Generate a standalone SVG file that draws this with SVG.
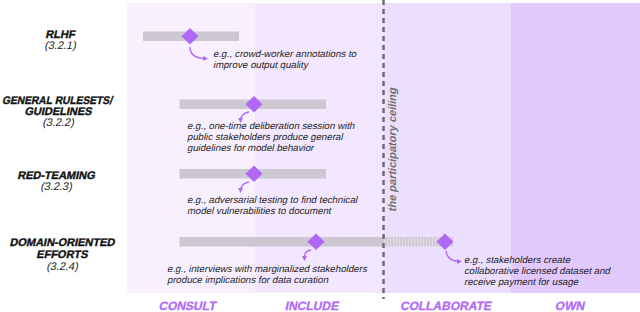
<svg xmlns="http://www.w3.org/2000/svg" width="640" height="312" viewBox="0 0 640 312">
<defs>
<style>
text{font-family:"Liberation Sans",Arial,sans-serif}
.lbl{font-weight:700;font-size:11px;fill:#111;stroke:#111;stroke-width:0.35;text-anchor:middle}
.sec{font-weight:400;font-size:11px;fill:#222;text-anchor:middle}
.ann{font-weight:400;font-size:9.7px;fill:#1e1e1e}
.axis{font-weight:700;font-size:12px;fill:#b26bf5;stroke:#b26bf5;stroke-width:0.3;text-anchor:middle}
.ceil{font-weight:700;font-size:11px;fill:#707070;text-anchor:middle}
.bar{fill:#cdc7d1}
.dia{fill:#b067f5}
.arr{fill:none;stroke:#b067f5;stroke-width:1.4;marker-end:url(#ah)}
</style>
<marker id="ah" viewBox="0 0 10 10" refX="6" refY="5" markerWidth="5" markerHeight="5" orient="auto" markerUnits="userSpaceOnUse">
<path d="M0,0 L10,5 L0,10 z" fill="#b067f5"/>
</marker>
<pattern id="stripes" width="3" height="10" patternUnits="userSpaceOnUse">
<rect width="3" height="10" fill="#cdc7d1"/>
<rect width="1.3" height="10" fill="#e2dce6"/>
</pattern>
</defs>

<g id="bands">
<rect x="127" y="3" width="128" height="290" fill="#f8f0fe"/>
<rect x="255" y="3" width="128" height="290" fill="#f2e7fe"/>
<rect x="383" y="3" width="128" height="290" fill="#ecdffe"/>
<rect x="511" y="3" width="129" height="290" fill="#e1c8fd"/>
</g>

<g id="rlhf">
<text class="lbl" transform="translate(60,38) skewX(-12)">RLHF</text>
<text class="sec" transform="translate(60,49) skewX(-12)">(3.2.1)</text>
<rect class="bar" x="143" y="31.5" width="96" height="9.5"/>
<path class="dia" d="M190,28 L198.5,36.3 L190,44.6 L181.5,36.3 z"/>
<text class="ann" transform="translate(213,57) skewX(-12)">e.g., crowd-worker annotations to</text>
<text class="ann" transform="translate(213,68) skewX(-12)">improve output quality</text>
</g>

<g id="general">
<text class="lbl" transform="translate(57,103.5) skewX(-12)" textLength="110" lengthAdjust="spacingAndGlyphs">GENERAL RULESETS/</text>
<text class="lbl" transform="translate(58,114.5) skewX(-12)">GUIDELINES</text>
<text class="sec" transform="translate(58,125.5) skewX(-12)">(3.2.2)</text>
<rect class="bar" x="179.5" y="99.5" width="146.5" height="9.5"/>
<path class="dia" d="M254,96 L262.5,104.3 L254,112.6 L245.5,104.3 z"/>
<text class="ann" transform="translate(187,129) skewX(-12)">e.g., one-time deliberation session with</text>
<text class="ann" transform="translate(187,140) skewX(-12)">public stakeholders produce general</text>
<text class="ann" transform="translate(187,151) skewX(-12)">guidelines for model behavior</text>
</g>

<g id="redteaming">
<text class="lbl" transform="translate(56,178.5) skewX(-12)">RED-TEAMING</text>
<text class="sec" transform="translate(56,189.5) skewX(-12)">(3.2.3)</text>
<rect class="bar" x="179.5" y="169" width="146.5" height="9.5"/>
<path class="dia" d="M254,165.5 L262.5,173.8 L254,182.1 L245.5,173.8 z"/>
<text class="ann" transform="translate(187,203) skewX(-12)">e.g., adversarial testing to find technical</text>
<text class="ann" transform="translate(187,214) skewX(-12)">model vulnerabilities to document</text>
</g>

<g id="domain">
<text class="lbl" transform="translate(62,246) skewX(-12)">DOMAIN-ORIENTED</text>
<text class="lbl" transform="translate(62,258) skewX(-12)">EFFORTS</text>
<text class="sec" transform="translate(62,269.5) skewX(-12)">(3.2.4)</text>
<rect class="bar" x="179.5" y="237" width="204" height="9.5"/>
<rect x="383.5" y="237" width="69.5" height="9.5" fill="url(#stripes)"/>
<path class="dia" d="M316,233.5 L324.5,241.8 L316,250.1 L307.5,241.8 z"/>
<path class="dia" d="M445,233.5 L453.5,241.8 L445,250.1 L436.5,241.8 z"/>
<text class="ann" transform="translate(167,272) skewX(-12)">e.g., interviews with marginalized stakeholders</text>
<text class="ann" transform="translate(167,283) skewX(-12)">produce implications for data curation</text>
<text class="ann" transform="translate(464,263) skewX(-12)">e.g., stakeholders create</text>
<text class="ann" transform="translate(464,274) skewX(-12)">collaborative licensed dataset and</text>
<text class="ann" transform="translate(464,285) skewX(-12)">receive payment for usage</text>
</g>

<g id="ceiling">
<line x1="383.5" y1="0" x2="383.5" y2="299" stroke="#6e6e70" stroke-width="2.5" stroke-dasharray="5 4"/>
<text class="ceil" transform="translate(396,150) rotate(-90) skewX(-12)">the participatory ceiling</text>
</g>

<g id="connectors">
<path class="arr" d="M190,47 C190,55 195,58.5 206,58.5"/>
<path class="arr" d="M249,112 C243,113 240.5,116 240.5,121"/>
<path class="arr" d="M249,182 C243,183 240.5,186 240.5,191"/>
<path class="arr" d="M311,250 C305,251 304.5,254 304.5,259"/>
<path class="arr" d="M446,251 C447,258 452,261.5 460,261.5"/>
</g>

<g id="axis">
<text class="axis" transform="translate(187,310) skewX(-12)">CONSULT</text>
<text class="axis" transform="translate(311.5,310) skewX(-12)">INCLUDE</text>
<text class="axis" transform="translate(445.5,310) skewX(-12)">COLLABORATE</text>
<text class="axis" transform="translate(569.5,310) skewX(-12)">OWN</text>
</g>
</svg>
